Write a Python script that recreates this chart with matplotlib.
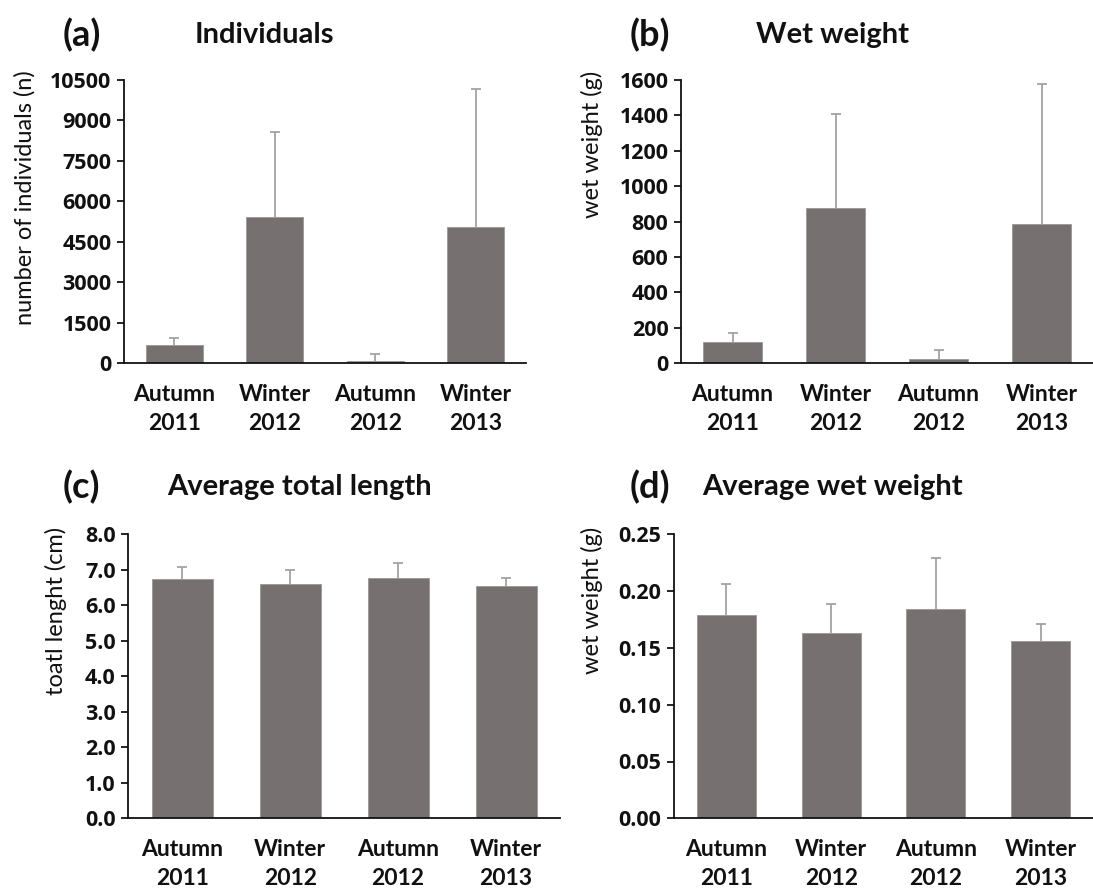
import matplotlib
matplotlib.use("Agg")
import matplotlib.pyplot as plt

plt.rcParams['font.family'] = ['Lato', 'DejaVu Sans']

# ========= DATA =========
categories = ["Autumn\n2011", "Winter\n2012", "Autumn\n2012", "Winter\n2013"]

individuals = [667, 5435, 99, 5065]
individuals_err = [284, 3150, 235, 5100]

wet_weight = [119, 875, 23, 785]
wet_weight_err = [52, 531, 54, 792]

avg_length = [6.73, 6.60, 6.76, 6.53]
avg_length_err = [0.35, 0.39, 0.43, 0.25]

avg_weight = [0.179, 0.163, 0.184, 0.156]
avg_weight_err = [0.027, 0.026, 0.045, 0.015]

BAR = '#767170'
ERR = '#a3a3a3'
INK = '#111111'
W, H = 1093, 889


def px_axes(fig, left, top, right, bottom):
    return fig.add_axes([left / W, 1 - bottom / H, (right - left) / W, (bottom - top) / H])


def panel(ax, values, errs, ticks, fmt):
    x = range(len(values))
    ax.bar(x, values, width=0.565, color=BAR, edgecolor='#9a9696', linewidth=0.6, zorder=2)
    eb = ax.errorbar(x, values, yerr=[[0] * len(errs), errs], fmt='none', ecolor=ERR,
                     elinewidth=1.3, capsize=3.3, capthick=1.3, zorder=1)
    # only the upper cap, like the original
    eb[1][0].remove()
    ax.set_xlim(-0.5, 3.5)
    ax.set_ylim(ticks[0], ticks[-1])
    ax.set_yticks(ticks)
    ax.set_yticklabels([fmt.format(t) for t in ticks], family=['Open Sans', 'DejaVu Sans'],
                       fontsize=15.5, fontweight='bold', color=INK)
    ax.set_xticks(list(x))
    ax.set_xticklabels(categories, linespacing=1.45, fontsize=16.5, fontweight='bold', color=INK)
    for s in ['top', 'right']:
        ax.spines[s].set_visible(False)
    for s in ['left', 'bottom']:
        ax.spines[s].set_linewidth(1.3)
        ax.spines[s].set_color(INK)
    ax.tick_params(axis='y', direction='out', length=5, width=1.2, pad=4)
    ax.tick_params(axis='x', length=0, pad=15)


fig = plt.figure(figsize=(W / 100, H / 100), dpi=100)

ax_a = px_axes(fig, 124, 80, 526, 363.3)
panel(ax_a, individuals, individuals_err, list(range(0, 10501, 1500)), "{:.0f}")

ax_b = px_axes(fig, 681, 80, 1093, 363.3)
panel(ax_b, wet_weight, wet_weight_err, list(range(0, 1601, 200)), "{:.0f}")

ax_c = px_axes(fig, 128.3, 534.3, 560, 818.3)
panel(ax_c, avg_length, avg_length_err, [i * 1.0 for i in range(9)], "{:.1f}")

ax_d = px_axes(fig, 674, 534.3, 1093, 818.3)
panel(ax_d, avg_weight, avg_weight_err, [i * 0.05 for i in range(6)], "{:.2f}")

# titles
def title(cx_letter, cx_title, cy, letter, text):
    fig.text(cx_letter / W, 1 - cy / H, letter, ha='center', va='center',
             fontsize=26, fontweight='bold', color=INK)
    fig.text(cx_title / W, 1 - cy / H, text, ha='center', va='center',
             fontsize=21, fontweight='bold', color=INK)

title(82, 264, 35, "(a)", "Individuals")
title(650, 832, 35, "(b)", "Wet weight")
title(81, 299, 487, "(c)", "Average total length")
title(650, 832, 487, "(d)", "Average wet weight")

# y labels
def ylab(cx, cy, text):
    fig.text(cx / W, 1 - cy / H, text, rotation=90, ha='center', va='center',
             fontsize=17, color=INK)

ylab(25, 198, "number of individuals (n)")
ylab(592, 144, "wet weight (g)")
ylab(56, 611, "toatl lenght (cm)")
ylab(592, 600, "wet weight (g)")

fig.savefig("out.png", dpi=100)
